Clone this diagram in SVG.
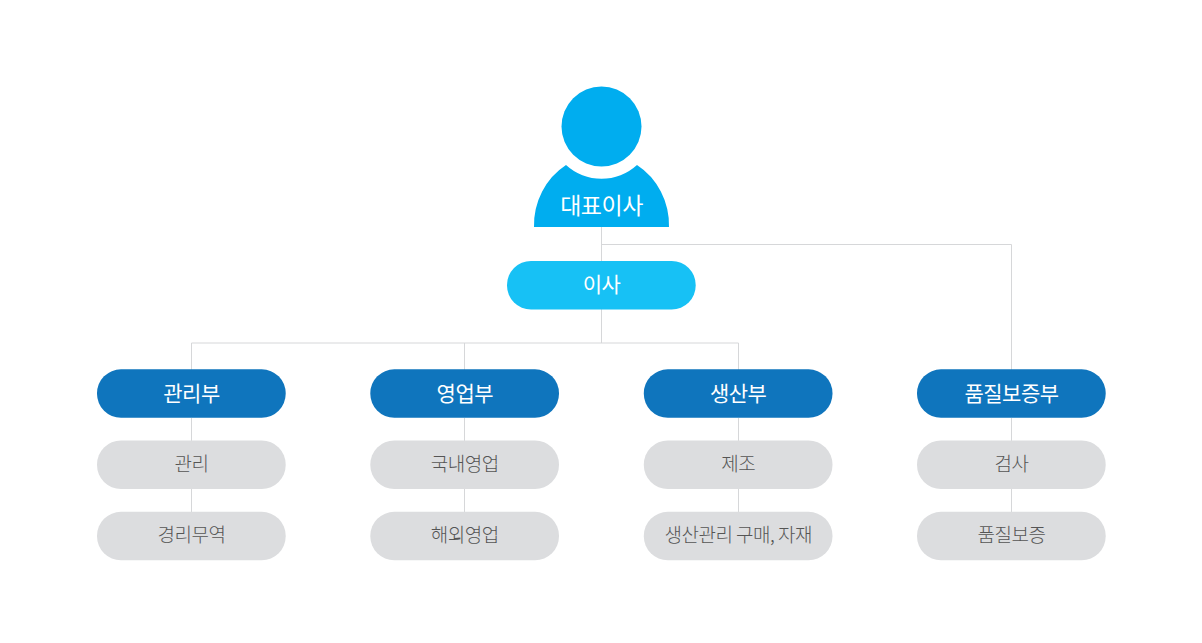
<svg xmlns="http://www.w3.org/2000/svg" width="1202" height="643" viewBox="0 0 1202 643">
<style>
.ln{fill:none;stroke:#d6d7d9;stroke-width:1}
text{font-family:"Noto Sans CJK KR","Noto Sans",sans-serif;text-anchor:middle;letter-spacing:-0.5px}
.d rect{fill:#0f75bd}.d text{fill:#fff;font-size:21px;font-weight:400}
.g rect{fill:#dcdddf}.g text{fill:#555;font-size:19px;font-weight:300}
</style>
<rect width="1202" height="643" fill="#fff"/>
<g id="connectors" class="ln">
<path d="M601.500 227V343M601.500 244.500H1011.500V370M191.500 370V343H738.500V370M464.500 343V370"/>
<path d="M191.500 418V512M464.500 418V512M738.500 418V512M1011.500 418V512"/>
</g>
<g id="ceo"><path d="M534 227A67.500 71 0 0 1 566 165A52.500 52.500 0 0 0 637 165A67.500 71 0 0 1 669 227Z" fill="#00adef"/><circle cx="601.500" cy="126.500" r="40" fill="#00adef"/><text x="601.500" y="213.500" font-size="23" font-weight="400" fill="#fff">대표이사</text></g>
<g id="director"><rect x="507" y="261" width="188.700" height="48.500" rx="24" fill="#17c1f5"/><text x="601.500" y="291.500" font-size="21" font-weight="400" fill="#fff">이사</text></g>
<g id="d1" class="d"><rect x="97" y="369.300" width="188.700" height="48.500" rx="24"/><text x="191.500" y="400.500">관리부</text></g>
<g id="d2" class="d"><rect x="370.300" y="369.300" width="188.700" height="48.500" rx="24"/><text x="464.800" y="400.500">영업부</text></g>
<g id="d3" class="d"><rect x="643.800" y="369.300" width="188.700" height="48.500" rx="24"/><text x="738.200" y="400.500">생산부</text></g>
<g id="d4" class="d"><rect x="917" y="369.300" width="188.700" height="48.500" rx="24"/><text x="1011.500" y="400.500">품질보증부</text></g>
<g id="t11" class="g"><rect x="97" y="440.500" width="188.700" height="48.500" rx="24"/><text x="191.500" y="471">관리</text></g>
<g id="t12" class="g"><rect x="97" y="511.800" width="188.700" height="48.500" rx="24"/><text x="191.500" y="542">경리무역</text></g>
<g id="t21" class="g"><rect x="370.300" y="440.500" width="188.700" height="48.500" rx="24"/><text x="464.800" y="471">국내영업</text></g>
<g id="t22" class="g"><rect x="370.300" y="511.800" width="188.700" height="48.500" rx="24"/><text x="464.800" y="542">해외영업</text></g>
<g id="t31" class="g"><rect x="643.800" y="440.500" width="188.700" height="48.500" rx="24"/><text x="738.200" y="471">제조</text></g>
<g id="t32" class="g"><rect x="643.800" y="511.800" width="188.700" height="48.500" rx="24"/><text x="738.200" y="542">생산관리 구매, 자재</text></g>
<g id="t41" class="g"><rect x="917" y="440.500" width="188.700" height="48.500" rx="24"/><text x="1011.500" y="471">검사</text></g>
<g id="t42" class="g"><rect x="917" y="511.800" width="188.700" height="48.500" rx="24"/><text x="1011.500" y="542">품질보증</text></g>
</svg>
